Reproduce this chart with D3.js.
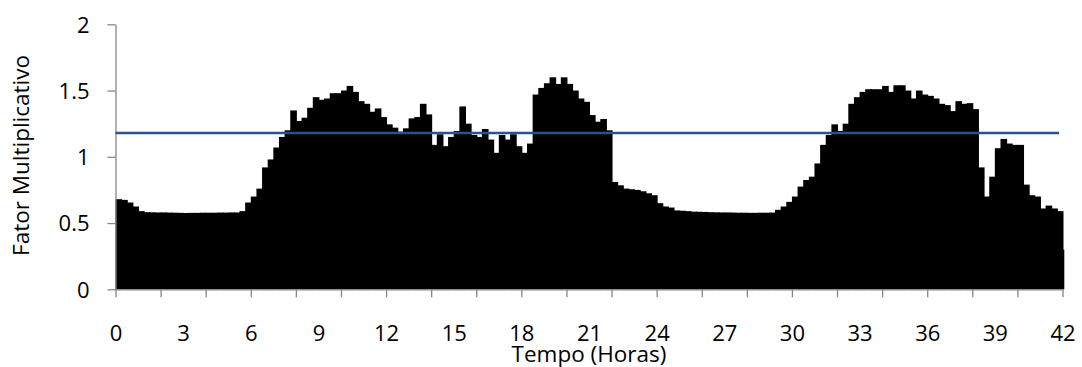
<!DOCTYPE html>
<html>
<head>
<meta charset="utf-8">
<script src="https://cdn.jsdelivr.net/npm/d3@7"></script>
<style>
  body { margin: 0; background: #fff; }
  svg text { font-family: "Open Sans", sans-serif; fill: #000; }
  .axis path, .axis line { stroke: #868686; stroke-width: 1.3; }
</style>
</head>
<body>
<svg width="1082" height="367"></svg>
<script>
var svg = d3.select("svg");

// fator multiplicativo, one value every 15 minutes
var stepHours = 0.25;
var factorDay1 = [
    0.68, 0.675, 0.655, 0.625, 0.59, 0.582, 0.581, 0.58, 0.58, 0.579, 0.578, 0.577,
    0.576, 0.577, 0.577, 0.578, 0.578, 0.578, 0.579, 0.579, 0.58, 0.58, 0.59, 0.655,
    0.70, 0.76, 0.92, 0.98, 1.07, 1.15, 1.20, 1.35, 1.27, 1.295, 1.37, 1.45,
    1.43, 1.44, 1.48, 1.48, 1.50, 1.535, 1.49, 1.42, 1.40, 1.34, 1.365, 1.30,
    1.245, 1.22, 1.19, 1.215, 1.29, 1.30, 1.40, 1.32, 1.09, 1.17, 1.08, 1.15,
    1.195, 1.38, 1.25, 1.165, 1.15, 1.21, 1.13, 1.03, 1.165, 1.13, 1.17, 1.08,
    1.03, 1.10, 1.47, 1.52, 1.555, 1.60, 1.55, 1.60, 1.55, 1.50, 1.44, 1.415,
    1.315, 1.265, 1.285, 1.20, 0.81, 0.785, 0.76, 0.755, 0.75, 0.74, 0.725, 0.71
];
var factorDay2 = [
    0.65, 0.625, 0.617, 0.595, 0.593, 0.59, 0.586, 0.585, 0.584, 0.582, 0.581, 0.58,
    0.58, 0.579, 0.578, 0.578, 0.577, 0.577, 0.578, 0.578, 0.579, 0.60, 0.625, 0.66,
    0.70, 0.775, 0.825, 0.85, 0.95, 1.09, 1.165, 1.245, 1.195, 1.25, 1.40, 1.45,
    1.49, 1.51, 1.51, 1.51, 1.535, 1.49, 1.54, 1.54, 1.50, 1.44, 1.50, 1.47,
    1.46, 1.44, 1.40, 1.39, 1.345, 1.42, 1.40, 1.405, 1.36, 0.92, 0.70, 0.85,
    1.065, 1.135, 1.10, 1.09, 1.09, 0.79, 0.71, 0.70, 0.61, 0.632, 0.61, 0.59,
    0.30
];
var referenceValue = 1.18;
var referenceSpan = [0, 41.85];

var xTickMarks = [0, 2, 4, 6, 8, 10, 12, 14, 16, 18, 20, 22, 24, 26, 28, 30, 32, 34, 36, 38, 40, 42];
var xTickLabels = [0, 3, 6, 9, 12, 15, 18, 21, 24, 27, 30, 33, 36, 39, 42];
var yTicks = [0, 0.5, 1, 1.5, 2];
var yTickLabels = ["0", "0.5", "1", "1.5", "2"];

var data = factorDay1.concat(factorDay2).map(function (v, i) {
    return {t: i * stepHours, v: v};
});

var x = d3.scaleLinear().domain([0, 42]).range([115.5, 1062.5]);
var y = d3.scaleLinear().domain([0, 2]).range([289.3, 24.3]);
var xEnd = x(42.08);

// bars (overlap by 1px so no seams show between them)
svg.append("g")
    .selectAll("rect")
    .data(data)
    .enter().append("rect")
    .attr("x", function (d) {
        return x(d.t);
    })
    .attr("y", function (d) {
        return y(d.v);
    })
    .attr("width", function (d) {
        return Math.min(x(d.t + stepHours) + 1, xEnd) - x(d.t);
    })
    .attr("height", function (d) {
        return y(0) - y(d.v);
    })
    .attr("fill", "#000");

// y axis
var yAxis = svg.append("g")
    .attr("class", "axis")
    .attr("transform", "translate(" + x(0) + ",0)")
    .call(d3.axisLeft(y)
        .tickValues(yTicks)
        .tickSize(8)
        .tickSizeOuter(0)
        .tickPadding(18)
        .tickFormat(function (d, i) {
            return yTickLabels[i];
        }));
yAxis.selectAll("text")
    .style("font-size", "22px")
    .attr("dy", "0.35em");

// x axis: marks every 2 h, labels every 3 h
svg.append("g")
    .attr("class", "axis")
    .attr("transform", "translate(0," + y(0) + ")")
    .call(d3.axisBottom(x)
        .tickValues(xTickMarks)
        .tickSize(8)
        .tickSizeOuter(0)
        .tickFormat(""));

var xLabels = svg.append("g")
    .attr("transform", "translate(0," + y(0) + ")")
    .call(d3.axisBottom(x)
        .tickValues(xTickLabels)
        .tickSize(0)
        .tickFormat(function (d) {
            return d;
        }));
xLabels.select(".domain").remove();
xLabels.selectAll("text")
    .style("font-size", "22px")
    .attr("y", 51.5)
    .attr("dy", null);

// reference line
svg.append("line")
    .attr("x1", x(referenceSpan[0]))
    .attr("x2", x(referenceSpan[1]))
    .attr("y1", y(referenceValue))
    .attr("y2", y(referenceValue))
    .attr("stroke", "#2B5290")
    .attr("stroke-width", 2.6);

// titles
svg.append("text")
    .attr("x", x(21))
    .attr("y", 361.5)
    .attr("text-anchor", "middle")
    .style("font-size", "22.5px")
    .text("Tempo (Horas)");

svg.append("text")
    .attr("transform", "translate(28.5," + y(1.01) + ") rotate(-90)")
    .attr("text-anchor", "middle")
    .style("font-size", "22.5px")
    .text("Fator Multiplicativo");
</script>
</body>
</html>
